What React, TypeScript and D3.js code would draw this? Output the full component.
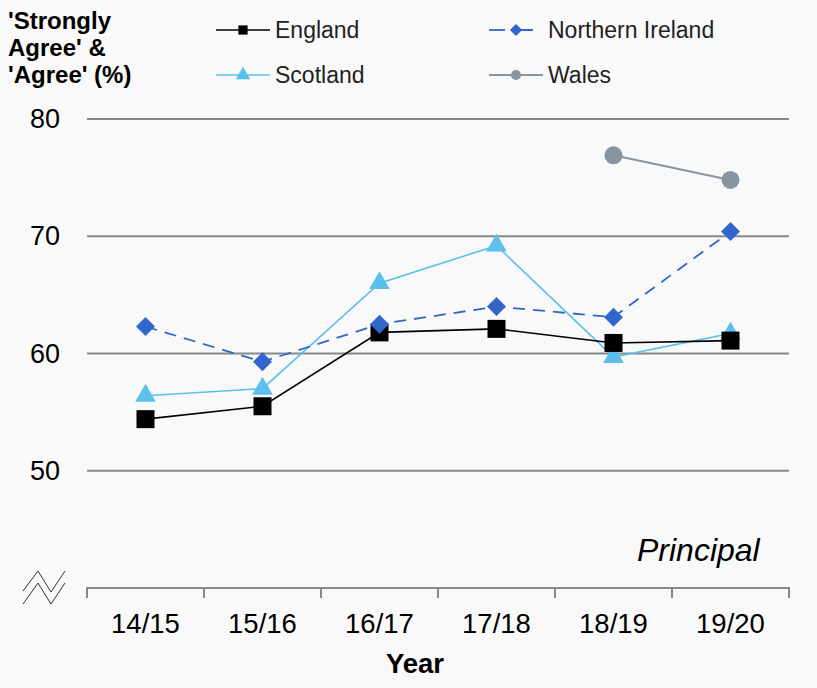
import React from 'react'
import * as d3 from 'd3'

const years = ['14/15', '15/16', '16/17', '17/18', '18/19', '19/20']
const yTicks = [50, 60, 70, 80]

const england = [54.4, 55.5, 61.8, 62.1, 60.9, 61.1]
const northernIreland = [62.3, 59.3, 62.5, 64.0, 63.1, 70.4]
const scotland = [56.4, 57.0, 66.0, 69.2, 59.7, 61.7]
const wales = [null, null, null, null, 76.9, 74.8]

const seriesNames = ['England', 'Northern Ireland', 'Scotland', 'Wales']

// diamond drawn as a square turned 45deg (d3's own diamond is too narrow)
const squareDiamond = (size: number) => {
  const r = Math.sqrt(size / 2)
  return `M0,${-r}L${r},0L0,${r}L${-r},0Z`
}

export default function App() {
  const width = 817
  const height = 688
  const left = 87
  const right = 789
  const top = 119
  const bottom = 588

  const x = d3.scaleBand<string>().domain(years).range([left, right])
  const y = d3.scaleLinear().domain([40, 80]).range([bottom, top])

  const series = [
    { name: seriesNames[0], values: england, color: '#000000', marker: 'square', dash: null, width: 1.6 },
    { name: seriesNames[1], values: northernIreland, color: '#3366cc', marker: 'diamond', dash: '12,8', width: 1.8 },
    { name: seriesNames[2], values: scotland, color: '#5bc0eb', marker: 'triangle', dash: null, width: 1.6 },
    { name: seriesNames[3], values: wales, color: '#8794a1', marker: 'circle', dash: null, width: 2 }
  ]
  // Scotland sits underneath, then England, NI and Wales on top
  const drawOrder = [series[2], series[0], series[1], series[3]]

  const cx = (yr: string) => (x(yr) as number) + x.bandwidth() / 2

  const line = d3
    .line<number | null>()
    .defined(d => d != null)
    .x((_, i) => cx(years[i]))
    .y(d => y(d as number))

  const symbolFor = (m: string, size: number) => {
    if (m === 'diamond') return squareDiamond(size)
    const t = m === 'square' ? d3.symbolSquare : m === 'triangle' ? d3.symbolTriangle : d3.symbolCircle
    return d3.symbol().type(t).size(size)() as string
  }
  const markerSize: Record<string, number> = { square: 324, diamond: 180, triangle: 185, circle: 254 }
  const legendSize: Record<string, number> = { square: 85, diamond: 75, triangle: 90, circle: 80 }

  const legendPos = [
    { x: 216, y: 30 },
    { x: 489, y: 30 },
    { x: 216, y: 75 },
    { x: 489, y: 75 }
  ]

  const font = 'Arial, "Liberation Sans", sans-serif'

  return (
    <svg width={width} height={height} style={{ position: 'absolute', left: 0, top: 0, background: '#f9f9f9' }} fontFamily={font}>
      <rect width={width} height={height} fill="#f9f9f9" />

      {/* y title */}
      <text fontSize={24} fontWeight="bold" fill="#000">
        <tspan x={8} y={29}>'Strongly</tspan>
        <tspan x={8} y={56}>Agree' &amp;</tspan>
        <tspan x={8} y={83}>'Agree' (%)</tspan>
      </text>

      {/* gridlines + y labels */}
      {yTicks.map(t => (
        <g key={t}>
          <line x1={left} x2={right} y1={y(t)} y2={y(t)} stroke="#888" strokeWidth={2} />
          <text x={60} y={y(t) + 9} fontSize={27} textAnchor="end" fill="#000">
            {t}
          </text>
        </g>
      ))}

      {/* x axis */}
      <line x1={left} x2={right} y1={bottom} y2={bottom} stroke="#888" strokeWidth={2} />
      {[...years.map(yr => x(yr) as number), right].map((p, i) => (
        <line key={i} x1={p} x2={p} y1={bottom - 1} y2={bottom + 10} stroke="#888" strokeWidth={2} />
      ))}
      {years.map(yr => (
        <text key={yr} x={cx(yr)} y={633} fontSize={27.5} textAnchor="middle" fill="#000">
          {yr}
        </text>
      ))}
      <text x={415} y={673} fontSize={27.5} fontWeight="bold" textAnchor="middle" fill="#000">
        Year
      </text>

      {/* axis break */}
      <g fill="none" stroke="#333" strokeWidth={1}>
        <polyline points="23,591 38,571 51,592 65,571" />
        <polyline points="23,604 38,583 51,604 65,583" />
      </g>

      <text x={637} y={561} fontSize={32} fontStyle="italic" fill="#000">
        Principal
      </text>

      {/* series */}
      {drawOrder.map(s => (
        <g key={s.name}>
          <path
            d={line(s.values) as string}
            fill="none"
            stroke={s.color}
            strokeWidth={s.width}
            strokeDasharray={s.dash ?? undefined}
          />
          {s.values.map((v, i) =>
            v == null ? null : (
              <path
                key={i}
                d={symbolFor(s.marker, markerSize[s.marker])}
                transform={`translate(${cx(years[i])},${y(v)})`}
                fill={s.color}
              />
            )
          )}
        </g>
      ))}

      {/* legend */}
      {series.map((s, i) => {
        const p = legendPos[i]
        return (
          <g key={s.name} transform={`translate(${p.x},${p.y})`}>
            <line x1={0} x2={54} y1={0} y2={0} stroke={s.color} strokeWidth={s.width} strokeDasharray={s.dash ? '16,12' : undefined} />
            <path d={symbolFor(s.marker, legendSize[s.marker])} transform="translate(27,0)" fill={s.color} />
            <text x={59} y={8} fontSize={23} fill="#222">
              {s.name}
            </text>
          </g>
        )
      })}
    </svg>
  )
}
